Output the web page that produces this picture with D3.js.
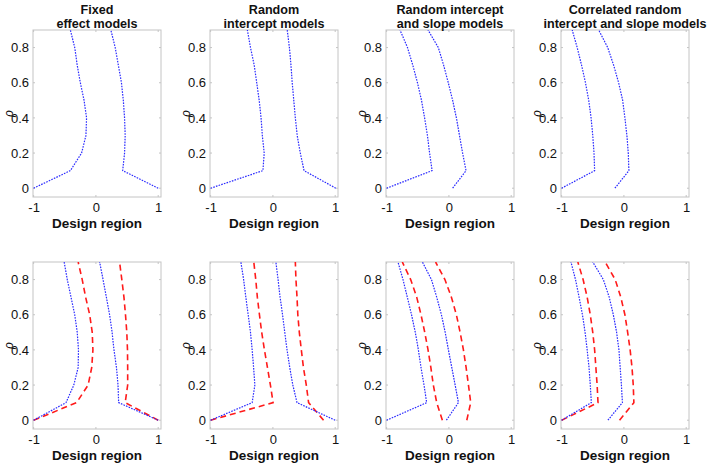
<!DOCTYPE html>
<html><head><meta charset="utf-8">
<script src="https://cdn.jsdelivr.net/npm/d3@7"></script>
<style>body{margin:0;background:#fff}svg{display:block}text{font-family:"Liberation Sans",Arial,sans-serif;fill:#111}</style>
</head><body><div id="chart"></div>
<script>
const rho = [0,0.1,0.2,0.3,0.4,0.5,0.6,0.7,0.8,0.9];
const titles = [["Fixed","effect models"],["Random","intercept models"],["Random intercept","and slope models"],["Correlated random","intercept and slope models"]];
const xTicks = [-1,0,1];
const yTicks = [0,0.2,0.4,0.6,0.8];

// Top row (blue dotted): left & right boundaries
const fixedTopL = [-1,-0.41,-0.23,-0.16,-0.15,-0.19,-0.25,-0.30,-0.34,-0.41];
const fixedTopR = [1.0,0.43,0.46,0.47,0.46,0.44,0.41,0.36,0.31,0.24];
const riTopL = [-1,-0.16,-0.14,-0.17,-0.19,-0.22,-0.26,-0.30,-0.36,-0.41];
const riTopR = [1.01,0.50,0.44,0.39,0.36,0.335,0.31,0.29,0.265,0.23];
const risTopL = [-1,-0.27,-0.31,-0.345,-0.39,-0.44,-0.505,-0.58,-0.665,-0.785];
const risTopR = [0.06,0.275,0.22,0.17,0.12,0.06,-0.01,-0.085,-0.17,-0.335];
const crisTopL = [-1,-0.47,-0.48,-0.50,-0.527,-0.565,-0.617,-0.68,-0.75,-0.83];
const crisTopR = [-0.145,0.08,0.07,0.048,0.016,-0.02,-0.085,-0.165,-0.26,-0.405];

// Bottom row: blue dotted and red dashed
const fixedBotBlueL = [-1,-0.48,-0.355,-0.285,-0.28,-0.30,-0.34,-0.40,-0.46,-0.51];
const fixedBotBlueR = [1.0,0.365,0.355,0.33,0.29,0.26,0.22,0.168,0.115,0.06];
const fixedBotRedL = [-1,-0.31,-0.125,-0.067,-0.048,-0.059,-0.10,-0.165,-0.22,-0.285];
const fixedBotRedR = [1.0,0.47,0.51,0.51,0.507,0.496,0.475,0.45,0.416,0.38];
const riBotBlueL = [-1,-0.333,-0.29,-0.31,-0.333,-0.36,-0.397,-0.435,-0.47,-0.515];
const riBotBlueR = [1.0,0.387,0.32,0.27,0.227,0.19,0.155,0.115,0.083,0.048];
const riBotRedL = [-1,0.003,-0.04,-0.088,-0.136,-0.18,-0.216,-0.25,-0.275,-0.307];
const riBotRedR = [0.813,0.573,0.536,0.49,0.456,0.424,0.40,0.387,0.37,0.36];
const risBotBlueL = [-1,-0.357,-0.40,-0.448,-0.49,-0.54,-0.60,-0.668,-0.737,-0.818];
const risBotBlueR = [-0.04,0.153,0.10,0.046,-0.008,-0.06,-0.12,-0.196,-0.28,-0.426];
const risBotRedL = [-0.105,-0.196,-0.25,-0.29,-0.335,-0.388,-0.448,-0.517,-0.614,-0.748];
const risBotRedR = [0.287,0.35,0.314,0.276,0.233,0.18,0.12,0.04,-0.064,-0.214];
const crisBotBlueL = [-1,-0.523,-0.54,-0.56,-0.59,-0.623,-0.666,-0.72,-0.777,-0.85];
const crisBotBlueR = [-0.257,-0.024,-0.04,-0.06,-0.08,-0.117,-0.17,-0.236,-0.33,-0.5];
const crisBotRedL = [-1,-0.416,-0.43,-0.45,-0.47,-0.50,-0.54,-0.59,-0.655,-0.74];
const crisBotRedR = [-0.07,0.16,0.15,0.13,0.10,0.06,0.016,-0.05,-0.14,-0.30];

const panels = [
  {row:0,col:0,blue:[fixedTopL,fixedTopR],red:[]},
  {row:0,col:1,blue:[riTopL,riTopR],red:[]},
  {row:0,col:2,blue:[risTopL,risTopR],red:[]},
  {row:0,col:3,blue:[crisTopL,crisTopR],red:[]},
  {row:1,col:0,blue:[fixedBotBlueL,fixedBotBlueR],red:[fixedBotRedL,fixedBotRedR]},
  {row:1,col:1,blue:[riBotBlueL,riBotBlueR],red:[riBotRedL,riBotRedR]},
  {row:1,col:2,blue:[risBotBlueL,risBotBlueR],red:[risBotRedL,risBotRedR]},
  {row:1,col:3,blue:[crisBotBlueL,crisBotBlueR],red:[crisBotRedL,crisBotRedR]}
];

const W=709,H=464;
const colLeft=[33,210,386,561], pw=128;
const rowTop=[30,262], ph=167;
const svg=d3.select("#chart").append("svg").attr("width",W).attr("height",H);

panels.forEach(p=>{
  const x0=colLeft[p.col], y0=rowTop[p.row];
  const x=d3.scaleLinear().domain([-1.01,1.045]).range([x0,x0+pw]);
  const y=d3.scaleLinear().domain([-0.05,0.9]).range([y0+ph,y0]);
  const g=svg.append("g");
  g.append("rect").attr("x",x0).attr("y",y0).attr("width",pw).attr("height",ph)
    .attr("fill","#fff").attr("stroke","#c4c4c4").attr("stroke-width",1);
  xTicks.forEach(t=>{
    g.append("line").attr("x1",x(t)).attr("x2",x(t)).attr("y1",y0+ph).attr("y2",y0+ph-2).attr("stroke","#c4c4c4");
    g.append("line").attr("x1",x(t)).attr("x2",x(t)).attr("y1",y0).attr("y2",y0+2).attr("stroke","#c4c4c4");
  });
  yTicks.forEach(t=>{
    g.append("line").attr("x1",x0).attr("x2",x0+2).attr("y1",y(t)).attr("y2",y(t)).attr("stroke","#c4c4c4");
    g.append("line").attr("x1",x0+pw).attr("x2",x0+pw-2).attr("y1",y(t)).attr("y2",y(t)).attr("stroke","#c4c4c4");
  });
  const yAx=d3.axisLeft(y).tickValues(yTicks).tickSize(0).tickPadding(4).tickFormat(d=>d===0?"0":d3.format(".1f")(d));
  const ya=g.append("g").attr("transform",`translate(${x0},0)`).call(yAx);
  ya.select(".domain").remove();
  ya.selectAll("text").attr("font-size",13).attr("fill","#111");
  const xAx=d3.axisBottom(x).tickValues(xTicks).tickSize(0).tickPadding(6).tickFormat(d3.format("d"));
  const xa=g.append("g").attr("transform",`translate(0,${y0+ph})`).call(xAx);
  xa.select(".domain").remove();
  xa.selectAll("text").attr("font-size",13).attr("fill","#111").text(d=>d<0?"-"+Math.abs(d):d);
  g.append("text").attr("x",x0+pw/2).attr("y",y0+ph+31).attr("text-anchor","middle")
    .attr("font-size",13.5).attr("font-weight","bold").text("Design region");
  g.append("text").attr("transform",`translate(${x0-20},${y0+ph/2}) rotate(-90)`).attr("text-anchor","middle")
    .attr("font-size",12).attr("font-style","italic").attr("font-family","DejaVu Serif, serif").text("ρ");
  if(p.row===0){
    const t=titles[p.col];
    t.forEach((s,i)=>g.append("text").attr("x",x0+pw/2).attr("y",14+i*13.5).attr("text-anchor","middle")
      .attr("font-size",12.6).attr("font-weight","bold").text(s));
  }
  const clip="clip"+p.row+p.col;
  g.append("clipPath").attr("id",clip).append("rect").attr("x",x0).attr("y",y0).attr("width",pw).attr("height",ph);
  const line=d3.line().x(d=>x(d[0])).y(d=>y(d[1]));
  const lg=g.append("g").attr("clip-path",`url(#${clip})`);
  p.red.forEach(arr=>{
    lg.append("path").attr("d",line(arr.map((v,i)=>[v,rho[i]]))).attr("fill","none")
      .attr("stroke","#ff1a1a").attr("stroke-width",1.6).attr("stroke-dasharray","6,4");
  });
  p.blue.forEach(arr=>{
    lg.append("path").attr("d",line(arr.map((v,i)=>[v,rho[i]]))).attr("fill","none")
      .attr("stroke","#2a2aff").attr("stroke-width",1.2).attr("stroke-dasharray","1.6,1.2");
  });
});
</script></body></html>
